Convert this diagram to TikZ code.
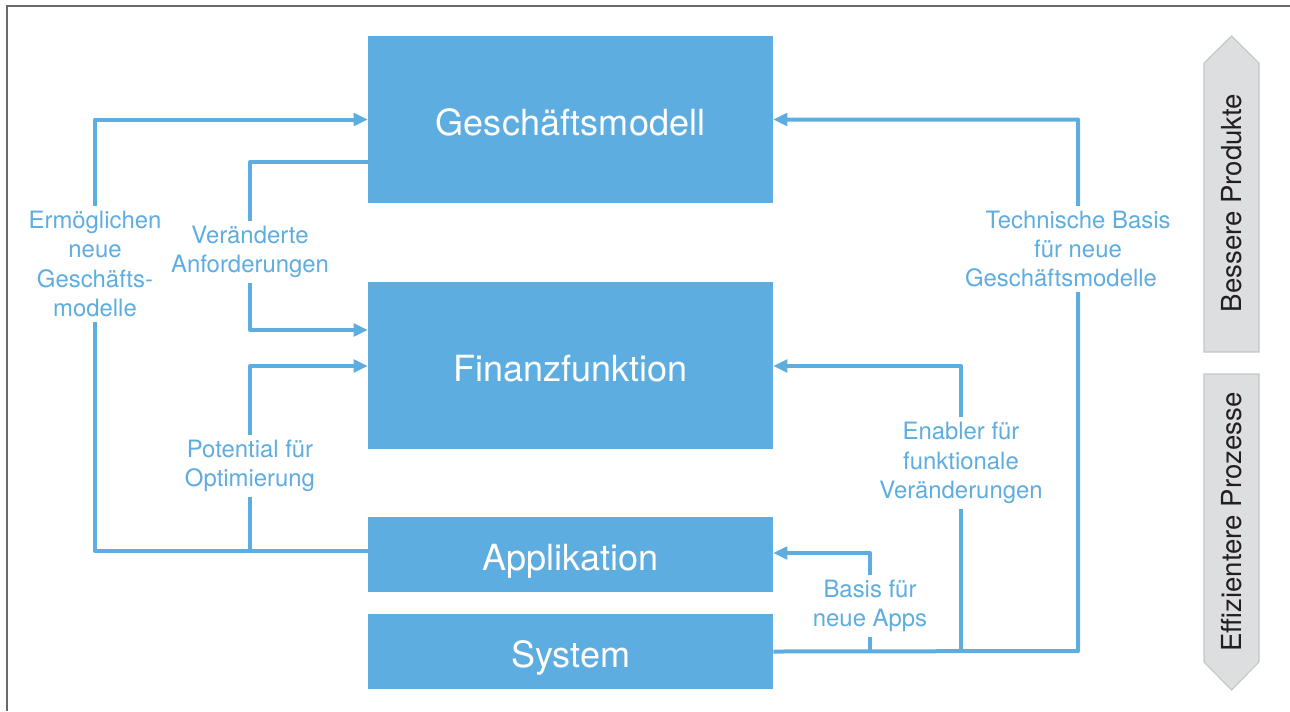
\documentclass[tikz,border=0pt]{standalone}
\usepackage{fontspec}
\setmainfont{TeX Gyre Heros}
\usetikzlibrary{arrows.meta,positioning,calc}
\definecolor{itblue}{RGB}{94,173,225}
\definecolor{bargrey}{RGB}{221,222,224}
\definecolor{bargreydark}{RGB}{196,197,199}
\definecolor{framegrey}{RGB}{105,105,105}
\definecolor{textdark}{RGB}{35,31,32}

\begin{document}
\begin{tikzpicture}[x=0.02cm, y=-0.02cm,
    blk/.style={rectangle, fill=itblue, draw=none, minimum width=8.1cm, inner sep=0pt,
                text height=0.62cm, text depth=0pt,
                text=white, font=\fontsize{20.5}{24}\selectfont},
    conn/.style={draw=itblue, line width=0.08cm, line join=round,
                 -{Triangle[length=0.28cm, width=0.25cm]}},
    lbl/.style={fill=white, text=itblue, align=center, inner sep=3pt,
                font=\fontsize{13.6}{16.6}\selectfont},
    bar/.style={fill=bargrey, draw=bargreydark, line width=0.6pt},
    bartxt/.style={rotate=90, text=textdark, font=\fontsize{15.7}{18}\selectfont}]
\useasboundingbox (0,0) rectangle (1290,711);
% frame: only top and left edge
\draw[framegrey, line width=0.04cm] (1290,6) -- (7,6) -- (7,711);

% the four layers
\node[blk, minimum height=3.34cm] (gm)  at (570.5,119.5) {Geschäftsmodell};
\node[blk, minimum height=3.34cm] (fin) at (570.5,365.5) {Finanzfunktion};
\node[blk, minimum height=1.5cm]  (app) at (570.5,554.5) {Applikation};
\node[blk, minimum height=1.5cm]  (sys) at (570.5,651.5) {System};

% bend points
\coordinate (lA) at (95,551);
\coordinate (vA) at (250,162);
\coordinate (vB) at (250,330);
\coordinate (pA) at (250,551);
\coordinate (pB) at (250,366);
\coordinate (rA) at (1078,651);
\coordinate (eA) at (961,651);
\coordinate (eB) at (961,366);
\coordinate (bA) at (870,651);
\coordinate (bB) at (870,553);

% left side
\draw[conn] (app.west |- lA) -- (lA) |- (gm.west);
\draw[conn] (gm.west |- vA) -- (vA) -- (vB) -- (fin.west |- vB);
\draw[conn] (pA) -- (pB) -- (fin.west |- pB);
% right side
\draw[conn] (sys.east) -- (rA) |- (gm.east);
\draw[conn] (eA) -- (eB) -- (fin.east |- eB);
\draw[conn] (bA) -- (bB) -- (app.east |- bB);

% labels sit on the lines and cut them
\node[lbl] (lErm) at (95,264)   {Ermöglichen\\neue\\Geschäfts-\\modelle};
\node[lbl] (lVer) at (250,252)  {Veränderte\\Anforderungen};
\node[lbl] (lPot) at (250,466)  {Potential für\\Optimierung};
\node[lbl] (lTec) at (1078,249) {Technische Basis\\für neue\\Geschäftsmodelle\hspace*{0.68cm}};
\node[lbl] (lEna) at (961,463)  {Enabler für\\funktionale\\Veränderungen};
\node[lbl] (lBas) at (870,606)  {Basis für\\neue Apps};

% grey side arrows
\draw[bar] (1204,63) -- (1231.5,36) -- (1259,63) -- (1259,352) -- (1204,352) -- cycle;
\draw[bar] (1204,374) -- (1259,374) -- (1259,662) -- (1231.5,690) -- (1204,662) -- cycle;
\node[bartxt] (tProd) at (1232,203) {Bessere Produkte};
\node[bartxt] (tProz) at (1232,522) {Effizientere Prozesse};
\end{tikzpicture}
\end{document}
